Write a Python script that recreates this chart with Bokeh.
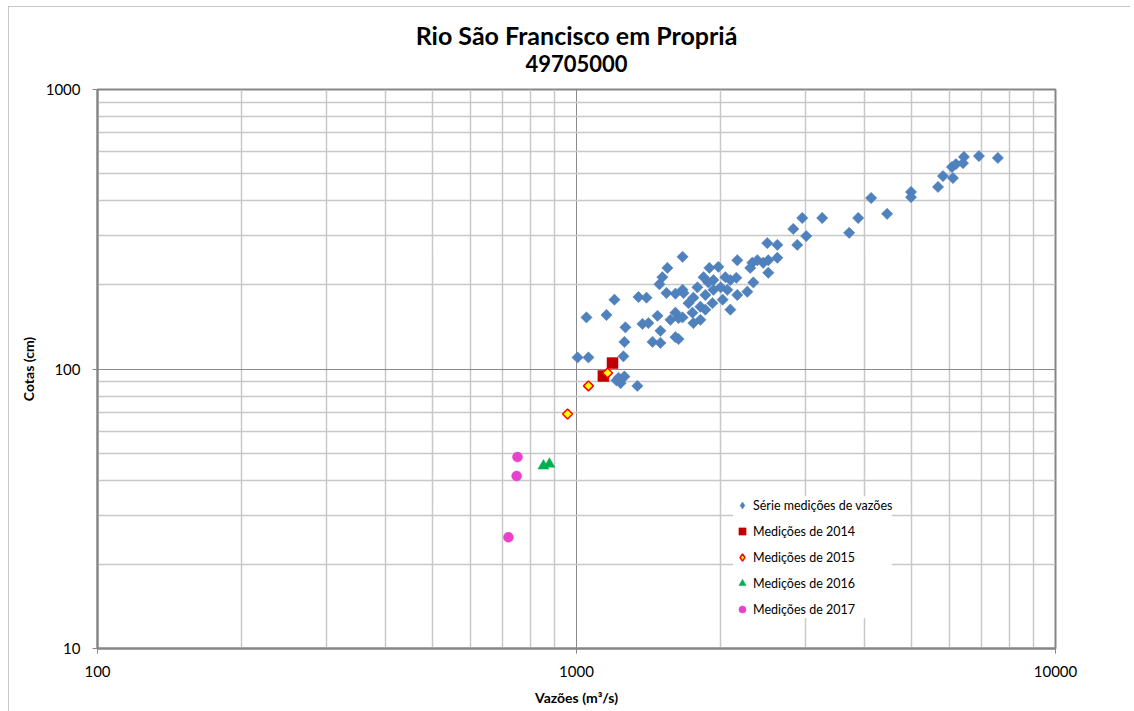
import numpy as np
from bokeh.plotting import figure
from bokeh.models import FixedTicker, BasicTickFormatter, Title, Legend, LegendItem
from bokeh.embed import file_html
from bokeh.resources import INLINE

# ---- data ----
serie_q = [1005, 1059, 1049, 1155, 1200, 1265, 1259, 1253, 1224, 1236, 1212, 1340,
           1347, 1400, 1373, 1413, 1476, 1497, 1441, 1497, 1609, 1633, 1665, 1548,
           1511, 1490, 1541, 1609, 1665, 1571, 1633, 1609, 1894, 1978, 2166, 2502,
           2626, 2890, 2328, 2385, 2305, 2514, 2626, 2514, 2340, 2273, 2166, 2156,
           2095, 2045, 1931, 1885, 2000, 1931, 2019, 2095, 1922, 1858, 1788, 1754,
           1713, 1814, 1858, 1746, 1814, 1754, 1673, 1665, 1842, 2065, 2454, 1259,
           2835, 2960, 3017, 3258, 3709, 3873, 4122, 4451, 4993, 4993, 5685, 5823,
           6109, 6079, 6198, 6410, 6440, 6920, 7580]
serie_h = [110, 110, 153, 156, 177, 141, 125, 111, 93, 89, 91, 87,
           181, 180, 145, 146, 155, 137, 125, 124, 130, 128, 252, 230,
           213, 201, 187, 186, 192, 150, 152, 159, 230, 232, 245, 282,
           278, 278, 240, 245, 230, 245, 250, 221, 204, 189, 184, 212,
           208, 213, 208, 204, 196, 192, 177, 163, 172, 184, 196, 180,
           172, 167, 163, 159, 150, 146, 187, 153, 213, 192, 240, 94,
           317, 347, 299, 347, 307, 347, 409, 359, 430, 412, 448, 490,
           482, 528, 541, 545, 574, 578, 569]

q2014 = [1189, 1138]
h2014 = [105, 94.4]
q2015 = [1161, 1059, 958]
h2015 = [96.8, 87, 69]
q2016 = [853, 878]
h2016 = [45, 45.7]
q2017 = [753, 750, 721]
h2017 = [48.4, 41.4, 25]

x_major = [100, 1000, 10000]
x_minor = [200, 300, 400, 500, 600, 700, 800, 900,
           2000, 3000, 4000, 5000, 6000, 7000, 8000, 9000]
y_major = [10, 100, 1000]
y_minor = [20, 30, 40, 50, 60, 70, 80, 90,
           200, 300, 400, 500, 600, 700, 800, 900]

title_txt = "Rio São Francisco em Propriá"
subtitle_txt = "49705000"
x_label = "Vazões (m³/s)"
y_label = "Cotas (cm)"
legend_labels = ["Série medições de vazões", "Medições de 2014", "Medições de 2015",
                 "Medições de 2016", "Medições de 2017"]

FONT = "Lato"

BLUE = "#4F81BD"
RED = "#C00000"
YEL = "#FFFF00"
YEL_LINE = "#FF0000"
GREEN = "#00B050"
PINK = "#E842CC"

p = figure(width=1122, height=705, margin=(6, 0, 0, 8),
           styles={"outline": "1px solid #b4b4b4", "outline-offset": "-1px"},
           x_axis_type="log", y_axis_type="log",
           x_range=(100, 10000), y_range=(10, 1000),
           output_backend="svg", toolbar_location=None, title=None,
           min_border_left=89, min_border_right=75, min_border_top=83, min_border_bottom=63)

# titles (subtitle added first -> nearer to plot)
sub = Title(text=subtitle_txt, align="center", text_font=FONT, text_font_size="22px",
            text_font_style="bold", text_color="#000000", standoff=35)
p.add_layout(sub, "above")
main = Title(text=title_txt, align="center", text_font=FONT, text_font_size="25px",
             text_font_style="bold", text_color="#000000", standoff=-28)
p.add_layout(main, "above")

xt = FixedTicker(ticks=x_major, minor_ticks=x_minor)
yt = FixedTicker(ticks=y_major, minor_ticks=y_minor)
p.xaxis.ticker = xt
p.yaxis.ticker = yt
p.xgrid.ticker = xt
p.ygrid.ticker = yt
p.xaxis.formatter = BasicTickFormatter(use_scientific=False)
p.yaxis.formatter = BasicTickFormatter(use_scientific=False)

for ax in (p.xaxis, p.yaxis):
    ax.axis_line_color = "#868686"
    ax.axis_line_width = 2
    ax.major_tick_line_color = "#868686"
    ax.major_tick_in = 0
    ax.major_tick_out = 5
    ax.minor_tick_line_color = None
    ax.major_label_text_font = FONT
    ax.major_label_text_font_size = "15px"
    ax.major_label_text_color = "#000000"
    ax.axis_label_text_font = FONT
    ax.axis_label_text_font_size = "14px"
    ax.axis_label_text_font_style = "bold"
    ax.axis_label_text_color = "#000000"

p.xaxis.axis_label = x_label
p.yaxis.axis_label = y_label
p.xaxis.major_label_standoff = 12
p.yaxis.major_label_standoff = 12
p.xaxis.axis_label_standoff = 9
p.yaxis.axis_label_standoff = 6

for g in (p.xgrid, p.ygrid):
    g.grid_line_color = "#8a8a8a"
    g.grid_line_width = 1
    g.minor_grid_line_color = "#c8c8c8"
    g.minor_grid_line_width = 1.5

p.outline_line_color = "#868686"
p.outline_line_width = 2
p.background_fill_color = "white"
p.border_fill_color = "white"

# legend-only diamonds drawn underneath (fully hidden by the rotated squares on top)
l0 = p.scatter(serie_q, serie_h, marker="diamond", size=6,
               fill_color=BLUE, line_color=BLUE, line_width=0.5)
l2 = p.scatter(q2015, h2015, marker="diamond", size=5,
               fill_color=YEL, line_color=YEL_LINE, line_width=1.5)

r0 = p.scatter(serie_q, serie_h, marker="square", angle=np.pi / 4, size=8,
               fill_color=BLUE, line_color=BLUE, line_width=0.5)
r1 = p.scatter(q2014, h2014, marker="square", size=11,
               fill_color=RED, line_color=RED, line_width=0.5)
r2 = p.scatter(q2015, h2015, marker="square", angle=np.pi / 4, size=7,
               fill_color=YEL, line_color=YEL_LINE, line_width=1.5)
r3 = p.scatter(q2016, h2016, marker="triangle", size=11,
               fill_color=GREEN, line_color=GREEN, line_width=0.5)
r4 = p.scatter(q2017, h2017, marker="circle", size=10,
               fill_color=PINK, line_color=PINK, line_width=0.5)

legend = Legend(items=[LegendItem(label=lab, renderers=[r]) for lab, r in
                       zip(legend_labels, [l0, r1, l2, r3, r4])],
                location=(636, 30), orientation="vertical",
                label_text_font=FONT, label_text_font_size="12.5px", label_text_color="#000000",
                glyph_width=18, glyph_height=18, label_height=18, label_standoff=2,
                spacing=8, padding=4, margin=0,
                background_fill_color="white", background_fill_alpha=1.0,
                border_line_color=None)
p.add_layout(legend, "center")

open("out.html", "w").write(file_html(p, INLINE))
